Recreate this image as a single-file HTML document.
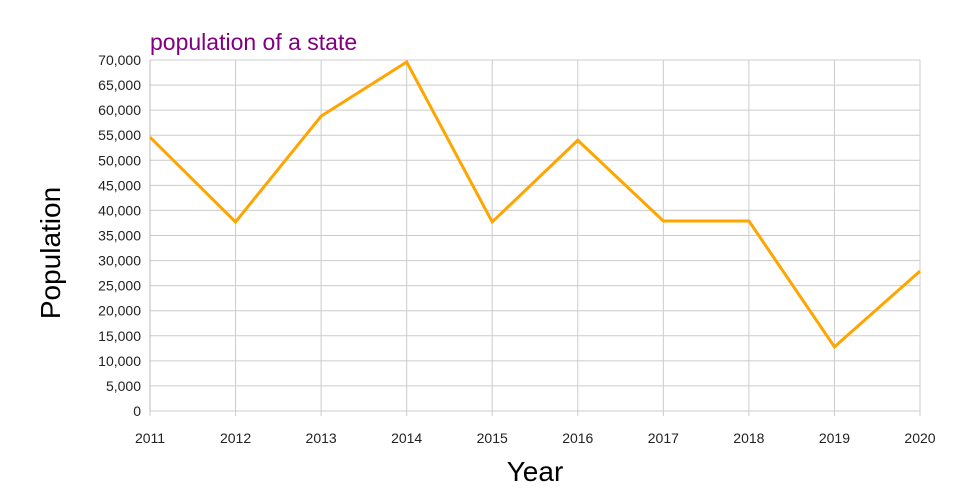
<!DOCTYPE html>
<html><head><meta charset="utf-8"><style>
body{margin:0;background:#fff;}
svg{display:block;font-family:"Liberation Sans",sans-serif;}
</style></head><body>
<svg id="chart" width="960" height="500">
<text x="150" y="50" font-size="23" fill="#800080">population of a state</text>
<text transform="translate(60,253) rotate(-90)" text-anchor="middle" font-size="28" fill="#000">Population</text>
<text x="535" y="481" text-anchor="middle" font-size="28" fill="#000">Year</text>
<g id="grid"></g><g id="ticks"></g><g id="series"></g>
</svg>
<script>
const years = [2011,2012,2013,2014,2015,2016,2017,2018,2019,2020];
const population = [54600,37700,58800,69600,37700,54000,37900,37900,12800,27900];
const yTicks = [0,5000,10000,15000,20000,25000,30000,35000,40000,45000,50000,55000,60000,65000,70000];
const X0=150,X1=920,Y0=411,Y1=60,YMAX=70000;
const ns="http://www.w3.org/2000/svg";
const xs=i=>X0+(X1-X0)*i/(years.length-1);
const ys=v=>Y0-(Y0-Y1)*v/YMAX;
const grid=document.getElementById('grid'),ticks=document.getElementById('ticks'),ser=document.getElementById('series');
function mk(tag,attrs,parent){const e=document.createElementNS(ns,tag);for(const k in attrs)e.setAttribute(k,attrs[k]);parent.appendChild(e);return e;}
yTicks.forEach(v=>{
  const l=mk('line',{x1:X0,x2:X1,y1:ys(v),y2:ys(v),stroke:'#ccc','stroke-width':1},grid);
  
  
  const t=mk('text',{x:X0-9,y:ys(v)+5,'text-anchor':'end','font-size':14,fill:'#222'},ticks);
  t.textContent=v.toLocaleString('en-US');
  
  
});
years.forEach((y,i)=>{
  const l=mk('line',{x1:xs(i),x2:xs(i),y1:Y1,y2:Y0+5,stroke:'#ccc','stroke-width':1},grid);
  
  
  const t=mk('text',{x:xs(i),y:443,'text-anchor':'middle','font-size':14,fill:'#222'},ticks);
  t.textContent=y;
  
  
});
const ax=mk('line',{x1:X0,x2:X0,y1:Y1,y2:Y0,stroke:'#bbb'},grid);


const p=mk('polyline',{points:population.map((v,i)=>xs(i)+','+ys(v)).join(' '),fill:'none',stroke:'#FFA500','stroke-width':3,'stroke-linejoin':'miter'},ser);


</script>
</body></html>
